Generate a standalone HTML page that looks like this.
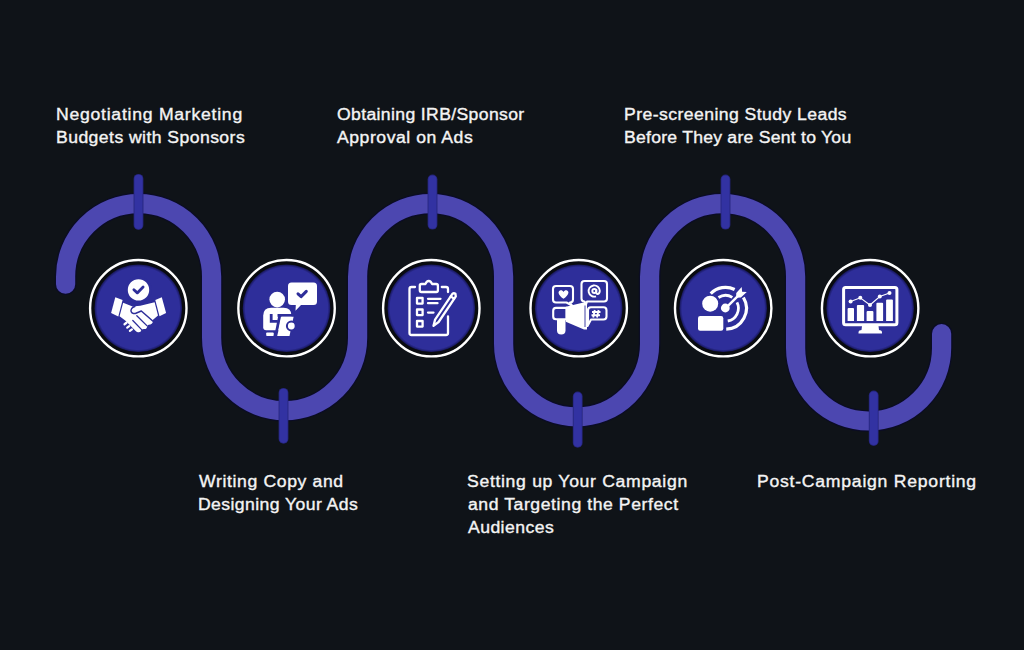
<!DOCTYPE html>
<html>
<head>
<meta charset="utf-8">
<style>
html,body{margin:0;padding:0;}
body{width:1024px;height:650px;background:#0f1318;position:relative;overflow:hidden;font-family:"Liberation Sans",sans-serif;}
svg{position:absolute;left:0;top:0;}
.t{position:absolute;color:#f4f4f4;font-size:16px;line-height:23px;white-space:nowrap;-webkit-text-stroke:0.35px #f4f4f4;transform:scaleX(1.1);transform-origin:0 0;}
</style>
</head>
<body>
<svg width="1024" height="650" viewBox="0 0 1024 650">
  <defs>
    <radialGradient id="cg" cx="0.5" cy="0.5" r="0.5">
      <stop offset="0" stop-color="#2e2e9a"/>
      <stop offset="0.94" stop-color="#2e2e9a"/>
      <stop offset="1" stop-color="#16165a"/>
    </radialGradient>
  </defs>
  <path d="M65.6 284.2 L65.6 276.6 A73 73 0 0 1 211.6 276.6 L211.6 337.7 A73 73 0 0 0 357.6 337.7 L357.6 276.6 A73 73 0 0 1 503.6 276.6 L503.6 343.8 A73 73 0 0 0 649.6 343.8 L649.6 276.6 A73 73 0 0 1 795.6 276.6 L795.6 348 A73 73 0 0 0 941.6 348 L941.6 333.7" fill="none" stroke="#0b0c26" stroke-width="21.6" stroke-linecap="round"/>
  <path d="M65.6 284.2 L65.6 276.6 A73 73 0 0 1 211.6 276.6 L211.6 337.7 A73 73 0 0 0 357.6 337.7 L357.6 276.6 A73 73 0 0 1 503.6 276.6 L503.6 343.8 A73 73 0 0 0 649.6 343.8 L649.6 276.6 A73 73 0 0 1 795.6 276.6 L795.6 348 A73 73 0 0 0 941.6 348 L941.6 333.7" fill="none" stroke="#4c47b0" stroke-width="19.2" stroke-linecap="round"/>
  <g stroke="#25257a" stroke-width="9.8" stroke-linecap="round">
    <line x1="138.5" y1="178.8" x2="138.5" y2="225"/>
    <line x1="283.5" y1="392.8" x2="283.5" y2="438.8"/>
    <line x1="432.5" y1="179.5" x2="432.5" y2="224.7"/>
    <line x1="577.7" y1="396.5" x2="577.7" y2="442.8"/>
    <line x1="725.5" y1="179.5" x2="725.5" y2="224.7"/>
    <line x1="873.7" y1="395.5" x2="873.7" y2="441"/>
  </g>
  <g stroke="#3232a2" stroke-width="8.2" stroke-linecap="round">
    <line x1="138.5" y1="178.8" x2="138.5" y2="225"/>
    <line x1="283.5" y1="392.8" x2="283.5" y2="438.8"/>
    <line x1="432.5" y1="179.5" x2="432.5" y2="224.7"/>
    <line x1="577.7" y1="396.5" x2="577.7" y2="442.8"/>
    <line x1="725.5" y1="179.5" x2="725.5" y2="224.7"/>
    <line x1="873.7" y1="395.5" x2="873.7" y2="441"/>
  </g>
  <g id="circles">
<circle cx="138.3" cy="308.2" r="48.2" fill="#090b10" stroke="#ffffff" stroke-width="2.4"/><circle cx="138.3" cy="308.3" r="43.8" fill="url(#cg)"/>
<circle cx="286.55" cy="308.2" r="48.2" fill="#090b10" stroke="#ffffff" stroke-width="2.4"/><circle cx="286.55" cy="308.3" r="43.8" fill="url(#cg)"/>
<circle cx="431.3" cy="308.2" r="48.2" fill="#090b10" stroke="#ffffff" stroke-width="2.4"/><circle cx="431.3" cy="308.3" r="43.8" fill="url(#cg)"/>
<circle cx="578.7" cy="308.2" r="48.2" fill="#090b10" stroke="#ffffff" stroke-width="2.4"/><circle cx="578.7" cy="308.3" r="43.8" fill="url(#cg)"/>
<circle cx="723.2" cy="308.2" r="48.2" fill="#090b10" stroke="#ffffff" stroke-width="2.4"/><circle cx="723.2" cy="308.3" r="43.8" fill="url(#cg)"/>
<circle cx="870.15" cy="308.2" r="48.2" fill="#090b10" stroke="#ffffff" stroke-width="2.4"/><circle cx="870.15" cy="308.3" r="43.8" fill="url(#cg)"/>
  </g>
  <g id="icons">
   <!-- icon1 handshake -->
   <g fill="#ffffff">
    <polygon points="115.3,297.3 122.6,300 118.3,316.5 111.1,313.1"/>
    <polygon points="155.3,300 161.8,297.3 166.1,313.1 159.5,316.2"/>
    <path d="M123.15 302.7 L132.6 306.5 L140.3 305.8 L154.6 302.2 L158 315.4 L153 319.8 Q153.4 323.6 150.4 324.4 Q148.6 324.6 147.3 325.4 Q147.2 329.2 144 329 Q142.5 329 141.4 329.9 Q140.8 333 137.8 332.2 L136.2 331.6 L125.2 320.6 L119.6 316.3 Z"/>
   </g>
   <g fill="none" stroke="#2e2e9a" stroke-linecap="round" stroke-linejoin="round">
    <path d="M134.8 306.6 C132 307.3 130.3 309.5 131.2 311.8 C132 313.8 134.5 314 136.5 313 L141.3 311 L153.3 321.5" stroke-width="1.5"/>
    <path d="M136.8 315.7 L146.8 325.6" stroke-width="1.3"/>
    <path d="M132.8 320.5 L141.6 329.6" stroke-width="1.3"/>
   </g>
   <g fill="none" stroke="#ffffff" stroke-width="2.2" stroke-linecap="round">
    <path d="M124.5 324.25 L126.5 322.75"/>
    <path d="M127.2 327.55 L129.2 326.05"/>
    <path d="M129.9 330.85 L131.9 329.35"/>
   </g>
   <circle cx="138.5" cy="289.9" r="12" fill="#ffffff" stroke="#2e2e9a" stroke-width="2.6"/>
   <polyline points="133.9,289.8 137.3,292.9 143.1,287.1" fill="none" stroke="#2e2e9a" stroke-width="2.8" stroke-linecap="round" stroke-linejoin="round"/>

   <!-- icon2 person with bubble -->
   <circle cx="277.2" cy="299.6" r="7.8" fill="#ffffff"/>
   <path d="M263.2 327.3 L263.2 315.7 Q263.2 307.7 271.2 307.7 L283.5 307.7 Q291.5 307.7 291.5 315.7 L291.5 330.3 L266.2 330.3 Q263.2 330.3 263.2 327.3 Z" fill="#ffffff"/>
   <rect x="266.2" y="332.4" width="7.5" height="3.6" rx="0.8" fill="#ffffff"/>
   <g fill="none" stroke="#2e2e9a" stroke-width="2.8" stroke-linecap="butt" stroke-linejoin="miter">
    <path d="M271.2 313.9 L271.2 321.4 L277.8 321.4"/>
    <path d="M277.5 315.4 L294.5 315.4"/>
    <path d="M279.7 315.8 L275.5 337"/>
   </g>
   <path d="M281.6 316.8 L293.6 316.8 L289.5 336 L277.2 336 Z" fill="#ffffff"/>
   <circle cx="291.3" cy="326" r="4.4" fill="#ffffff" stroke="#2e2e9a" stroke-width="2"/>
   <path d="M291.5 282.5 L313.5 282.5 Q317 282.5 317 286 L317 301.5 Q317 305 313.5 305 L301 305 L295.5 310.8 L295.8 305 L291.5 305 Q288 305 288 301.5 L288 286 Q288 282.5 291.5 282.5 Z" fill="#ffffff"/>
   <polyline points="298,293.8 301.1,296.6 306.3,291.4" fill="none" stroke="#2e2e9a" stroke-width="3" stroke-linecap="round" stroke-linejoin="round"/>

   <!-- icon3 clipboard -->
   <g fill="none" stroke="#ffffff" stroke-width="2.3" stroke-linecap="round" stroke-linejoin="round">
    <path d="M415 287 L411.5 287 Q409.5 287 409.5 289 L409.5 333 Q409.5 335 411.5 335 L446 335 Q448 335 448 333 L448 316.5"/>
    <path d="M441.8 287 L446 287 Q448 287 448 289 L448 292"/>
    <path d="M425.5 284 L421.5 284 Q419.8 284 419.8 285.7 L419.8 290.3 Q419.8 292 421.5 292 L436.2 292 Q437.9 292 437.9 290.3 L437.9 285.7 Q437.9 284 436.2 284 L432 284 Q431 281 428.7 281 Q426.5 281 425.5 284 Z"/>
    <rect x="417" y="298" width="5.6" height="5.6"/>
    <rect x="417" y="309.5" width="5.6" height="5.6"/>
    <rect x="417" y="321" width="5.6" height="5.6"/>
    <path d="M428 298.8 L440.5 298.8 M428 303.2 L437.5 303.2 M428 312.6 L433.5 312.6"/>
    <path d="M433.5 325.8 L435.1 319.6 L452.4 293.9 Q453.8 292.6 455.4 293.7 L455.8 296.3 L438.6 322 Z"/>
    <path d="M450.7 296.4 L454.1 298.8"/>
   </g>

   <!-- icon4 megaphone -->
   <g fill="none" stroke="#ffffff" stroke-width="2.1" stroke-linejoin="round">
    <path d="M556 286 L570 286 Q573 286 573 289 L573 299.5 Q573 302.5 570 302.5 L572 305.5 L566.5 302.5 L556 302.5 Q553 302.5 553 299.5 L553 289 Q553 286 556 286 Z"/>
    <path d="M584.5 281 L604 281 Q607 281 607 284 L607 298.5 Q607 301.5 604 301.5 L587 301.5 L586 304.5 L584.5 301.5 Q581.5 301.5 581.5 298.5 L581.5 284 Q581.5 281 584.5 281 Z"/>
    <path d="M591 307.2 L603.5 307.2 Q606.5 307.2 606.5 310.2 L606.5 316.5 Q606.5 319.5 603.5 319.5 L591 319.5 L587.5 326 L588 319.5 Q588 319.5 588 316.5 L588 310.2 Q588 307.2 591 307.2 Z"/>
    <path d="M556 307.9 L566.5 307.9 L566.5 319.3 L556 319.3 Q553.2 319.3 553.2 316.5 L553.2 310.7 Q553.2 307.9 556 307.9 Z"/>
   </g>
   <path d="M563.5 298.8 C558 295 557.5 291.5 560 290.5 C561.5 290 562.8 290.8 563.5 292 C564.2 290.8 565.5 290 567 290.5 C569.5 291.5 569 295 563.5 298.8 Z" fill="#ffffff"/>
   <path d="M565.8 306.8 L583.5 302.6 L587 302.6 L587 329.4 L584 329.4 L565.8 321.8 Z" fill="#ffffff"/>
   <path d="M585 305.5 L585 327" stroke="#2e2e9a" stroke-width="0.9"/>
   <path d="M557 320 L565.5 320 L565.5 330.5 Q565.5 334.5 561.25 334.5 Q557 334.5 557 330.5 Z" fill="#ffffff"/>
   <g fill="none" stroke="#ffffff" stroke-width="1.9">
    <circle cx="594.3" cy="291" r="2"/>
    <path d="M596.3 289 L596.3 292.3 Q596.3 294.2 597.8 294 Q599.8 293.6 599.8 290.8 A5.6 5.6 0 1 0 596 296.3"/>
    <path d="M594.8 310 L593.2 317.5 M598.6 310 L597 317.5 M592 312 L600.5 312 M591.5 315.2 L600 315.2"/>
   </g>

   <!-- icon5 target -->
   <circle cx="710.2" cy="303.7" r="8" fill="#ffffff"/>
   <rect x="698" y="316" width="25.3" height="14.8" rx="2.2" fill="#ffffff"/>
   <g fill="none" stroke="#ffffff" stroke-linecap="butt">
    <path d="M718.47 297.48 A12.9 12.9 0 0 1 732.34 297.36" stroke-width="2.8"/>
    <path d="M736.99 302.44 A12.9 12.9 0 0 1 727.74 321.00" stroke-width="2.8"/>
    <path d="M710.72 293.52 A20.9 20.9 0 0 1 734.66 289.52" stroke-width="3.2"/>
    <path d="M743.41 297.54 A20.9 20.9 0 0 1 726.23 329.19" stroke-width="3.2"/>
    <path d="M725.5 308.3 L737.52 296.28" stroke-width="2.5"/>
   </g>
   <circle cx="725.3" cy="308" r="4.4" fill="#ffffff"/>
   <polygon points="736.11,297.69 740.91,297.55 746.78,292.11 742.12,291.68 741.69,287.02 736.25,292.89" fill="#ffffff"/>

   <!-- icon6 monitor -->
   <rect x="843.6" y="287.4" width="53.3" height="37.3" rx="2" fill="none" stroke="#ffffff" stroke-width="3"/>
   <path d="M862 326 L878.5 326 L879 330 L881 330.5 Q882 331 882 332.5 L882 333.5 L858.5 333.5 L858.5 332.5 Q858.5 331 859.5 330.5 L861.5 330 Z" fill="#ffffff"/>
   <g fill="#ffffff">
    <path d="M847.6 321 L847.6 309 Q847.6 308 848.6 308 L853 308 Q854 308 854 309 L854 321 Z"/>
    <path d="M856.9 321 L856.9 306 Q856.9 305 857.9 305 L863.1 305 Q864.1 305 864.1 306 L864.1 321 Z"/>
    <path d="M866.6 321 L866.6 312 Q866.6 311 867.6 311 L872.4 311 Q873.4 311 873.4 312 L873.4 321 Z"/>
    <path d="M876.4 321 L876.4 303.8 Q876.4 302.8 877.4 302.8 L882.1 302.8 Q883.1 302.8 883.1 303.8 L883.1 321 Z"/>
    <path d="M886.1 321 L886.1 300.5 Q886.1 299.5 887.1 299.5 L891.9 299.5 Q892.9 299.5 892.9 300.5 L892.9 321 Z"/>
   </g>
   <polyline points="850.6,301.6 860.3,297.8 870,305 879.8,296.5 889.5,293.1" fill="none" stroke="#ffffff" stroke-width="1.1"/>
   <g fill="#ffffff">
    <circle cx="850.6" cy="301.6" r="2"/><circle cx="860.3" cy="297.8" r="2"/><circle cx="870" cy="305" r="2"/><circle cx="879.8" cy="296.5" r="2"/><circle cx="889.5" cy="293.1" r="2"/>
   </g>
  </g>
</svg>
<div class="t" style="left:55.9px;top:102.7px;letter-spacing:0.680px">Negotiating Marketing</div>
<div class="t" style="left:55.9px;top:125.7px;letter-spacing:0.394px">Budgets with Sponsors</div>
<div class="t" style="left:336.8px;top:102.7px;letter-spacing:0.328px">Obtaining IRB/Sponsor</div>
<div class="t" style="left:336.8px;top:125.7px;letter-spacing:0.487px">Approval on Ads</div>
<div class="t" style="left:624.3px;top:102.7px;letter-spacing:0.393px">Pre-screening Study Leads</div>
<div class="t" style="left:624.3px;top:125.7px;letter-spacing:0.222px">Before They are Sent to You</div>
<div class="t" style="left:199.4px;top:469.5px;letter-spacing:0.575px">Writing Copy and</div>
<div class="t" style="left:198.4px;top:492.5px;letter-spacing:0.376px">Designing Your Ads</div>
<div class="t" style="left:467.4px;top:469.5px;letter-spacing:0.619px">Setting up Your Campaign</div>
<div class="t" style="left:468.4px;top:492.5px;letter-spacing:0.518px">and Targeting the Perfect</div>
<div class="t" style="left:468.4px;top:515.5px;letter-spacing:0.396px">Audiences</div>
<div class="t" style="left:757.4px;top:469.5px;letter-spacing:0.688px">Post-Campaign Reporting</div>
</body>
</html>
